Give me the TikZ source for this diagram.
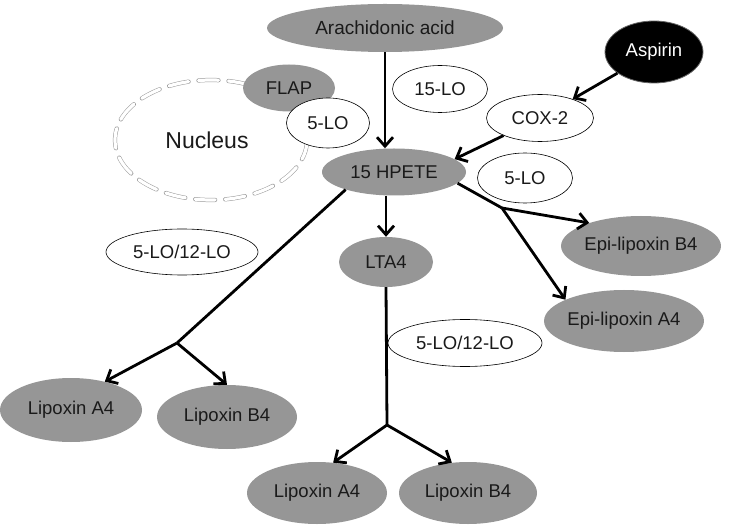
\documentclass[tikz,border=0pt]{standalone}
\usepackage{fontspec}
\setmainfont{Liberation Sans}
\usetikzlibrary{shapes.geometric,arrows.meta}
\definecolor{metgray}{RGB}{150,150,150}
\definecolor{inkgray}{RGB}{26,26,26}
\tikzset{
  every node/.style={font=\fontsize{18.5}{22}\selectfont, text=inkgray},
  met/.style={ellipse, fill=metgray, inner sep=0pt},
  enz/.style={ellipse, draw=black, fill=white, line width=0.6pt, inner sep=0pt},
  stem/.style={line width=2.8pt},
  flow/.style={stem, -{Straight Barb[length=9pt,width=16pt]}},
}
\begin{document}
\begin{tikzpicture}[x=1pt,y=-1pt]
    \useasboundingbox (0,0) rectangle (749,526);
    % nucleus outline
    \draw[draw=black!40, double=white, double distance=3.2pt, line width=0.5pt,
          line cap=round, dash pattern=on 20pt off 10pt] (211,140) ellipse [x radius=96, y radius=60];
    \node (nucleus) at (207,140) [font=\fontsize{23}{27}\selectfont] {Nucleus};
    % metabolites and enzymes
    \node (arach) at (385,28) [met, minimum width=236, minimum height=48,
          font=\fontsize{19}{22}\selectfont] {Arachidonic acid};
    \node (aspirin) at (654,52) [ellipse, fill=black, draw=black!60, line width=0.8pt,
          minimum width=98, minimum height=62, text=white] {Aspirin};
    \node (flap) at (289,88) [met, minimum width=92, minimum height=47] {FLAP};
    \node (lofive) at (328,123) [enz, minimum width=83, minimum height=50] {5-LO};
    \node (lofifteen) at (440,89) [enz, minimum width=95, minimum height=47] {15-LO};
    \node (cox) at (540,118) [enz, minimum width=107, minimum height=47] {COX-2};
    \node (hpete) at (394,172) [met, minimum width=144, minimum height=47] {15 HPETE};
    \node (lofiveb) at (525,178) [enz, minimum width=95, minimum height=50] {5-LO};
    \node (lomixa) at (182,252) [enz, minimum width=152, minimum height=46] {5-LO/12-LO};
    \node (lta) at (386,262) [met, minimum width=94, minimum height=50] {LTA4};
    \node (epib) at (641,246) [met, minimum width=140, minimum height=60] {Epi-lipoxin B4};
    \node (epia) at (624,321) [met, minimum width=152, minimum height=62] {Epi-lipoxin A4};
    \node (lomixb) at (465,343) [enz, minimum width=154, minimum height=47] {5-LO/12-LO};
    \node (lipaL) at (71,410) [met, minimum width=142, minimum height=64] {Lipoxin A4};
    \node (lipbL) at (227,417) [met, minimum width=140, minimum height=64] {Lipoxin B4};
    \node (lipaB) at (317,493) [met, minimum width=140, minimum height=62] {Lipoxin A4};
    \node (lipbB) at (468,493) [met, minimum width=138, minimum height=62] {Lipoxin B4};
    % branch points
    \coordinate (forkL) at (177,343);
    \coordinate (forkR) at (502,208);
    \coordinate (forkB) at (387,425);
    % connectors
    \draw[flow] (arach.south) -- (arach.south |- hpete.north);
    \draw[flow] (aspirin) -- (cox);
    \draw[flow] (cox) -- (hpete.12);
    \draw[flow] (hpete.south -| lta) -- (lta.north);
    \draw[stem] (hpete.200) -- (forkL);
    \draw[flow] (forkL) -- (lipaL.40);
    \draw[flow] (forkL) -- (lipbL.north);
    \draw[stem] (hpete.-10) -- (forkR);
    \draw[flow] (forkR) -- (epib.156);
    \draw[flow] (forkR) -- (epia.160);
    \draw[stem] (lta.south) -- (forkB);
    \draw[flow] (forkB) -- (lipaB.62);
    \draw[flow] (forkB) -- (lipbB.118);
\end{tikzpicture}
\end{document}
